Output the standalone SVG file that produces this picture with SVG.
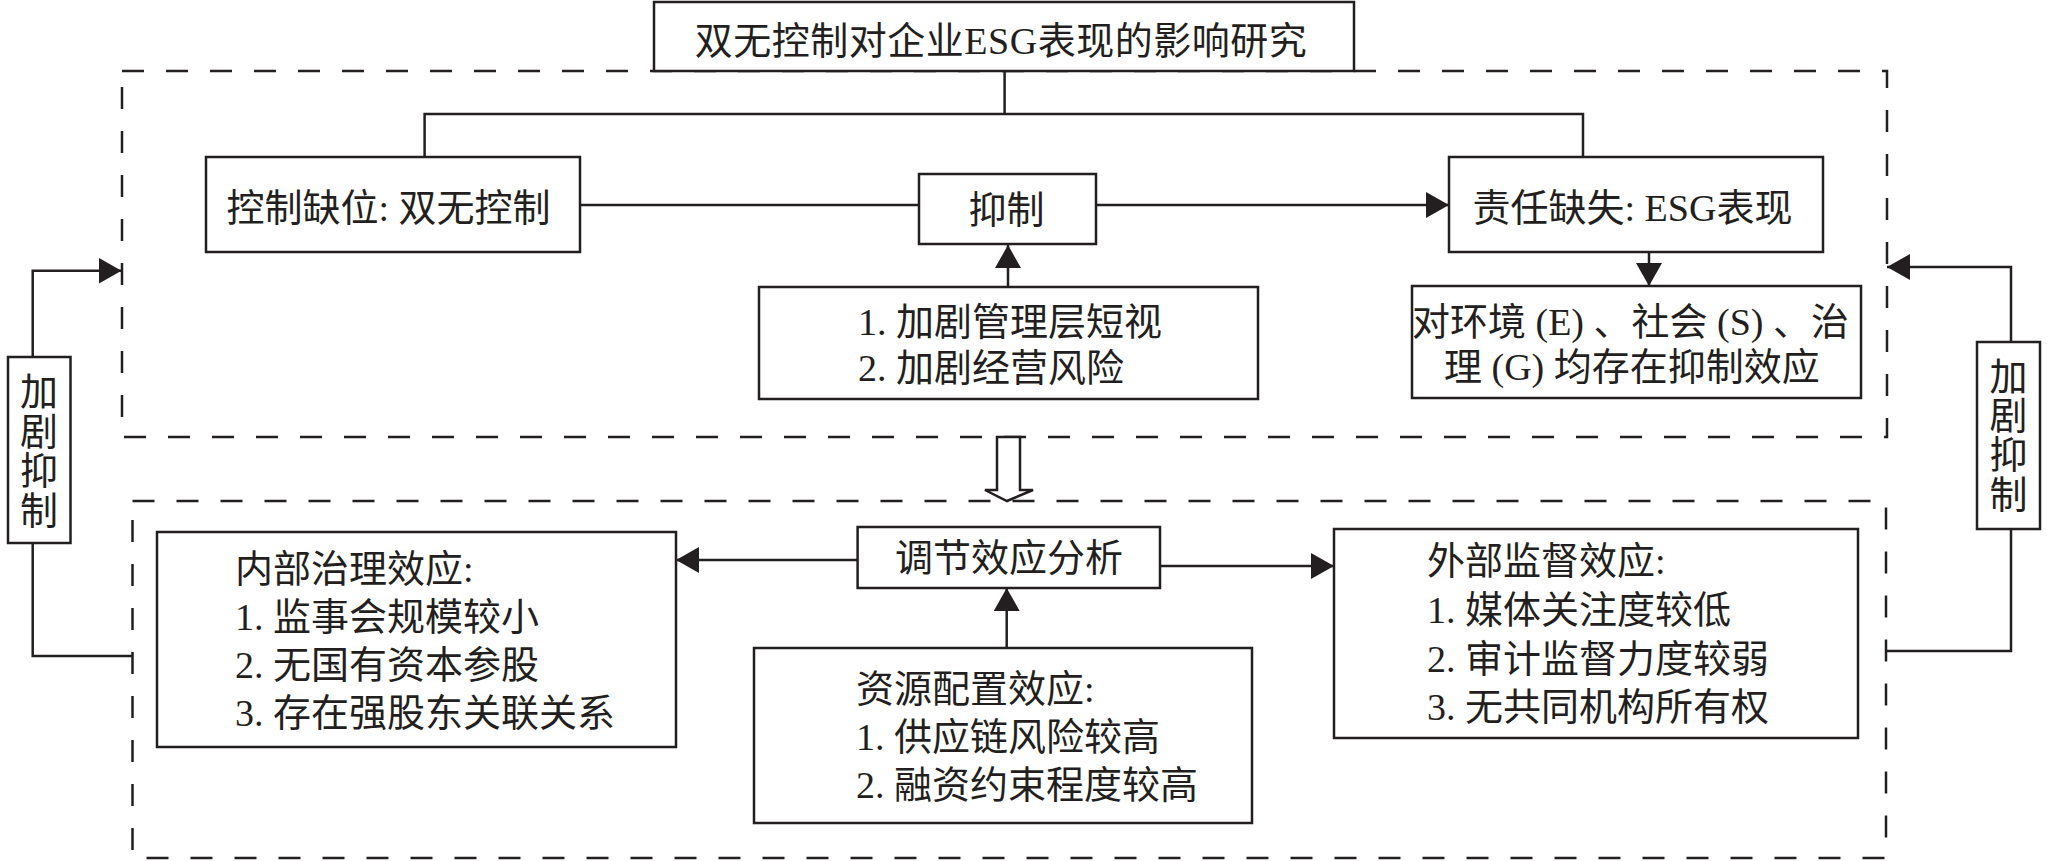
<svg xmlns="http://www.w3.org/2000/svg" width="2047" height="861" viewBox="0 0 2047 861">
  <style>
    .box { fill: #ffffff; stroke: #231f20; stroke-width: 2.5; }
    .dash { fill: none; stroke: #231f20; stroke-width: 2.5; stroke-dasharray: 22 22; }
    .ln { fill: none; stroke: #231f20; stroke-width: 2.5; }
    .arr { fill: none; stroke: #231f20; stroke-width: 2.5; marker-end: url(#ah); }
    text { font-family: 'Liberation Serif', 'Noto Sans CJK SC', serif; font-size: 38px; fill: #231f20; }
    .c { text-anchor: middle; }
  </style>
  <defs>
    <marker id="ah" markerUnits="userSpaceOnUse" markerWidth="26" markerHeight="28" refX="23" refY="13" orient="auto">
      <path d="M0,0 L23,13 L0,26 Z" fill="#231f20"/>
    </marker>
  </defs>
  <rect width="2047" height="861" fill="#ffffff"/>

  <!-- dashed frames -->
  <g id="frames">
    <rect class="dash" x="122" y="71" width="1765" height="366"/>
    <rect class="dash" x="132.5" y="501" width="1753.5" height="357"/>
  </g>

  <!-- connectors -->
  <g id="connectors">
    <path class="ln" d="M1004.6,71 V114 M424.6,157 V114 H1583 V157"/>
    <path class="ln" d="M580,205 H919"/>
    <path class="arr" d="M1096,205 H1449"/>
    <path class="arr" d="M1008,287 V245"/>
    <path class="arr" d="M1649,252 V286"/>
    <path class="arr" d="M32.7,357 V270.7 H121.5"/>
    <path class="ln" d="M32.7,543 V656 H132.5"/>
    <path class="arr" d="M2011,342 V267 H1887"/>
    <path class="ln" d="M2011,529 V651 H1886"/>
    <polygon class="box" points="997,437 1020,437 1020,490 1033,490 1007,501 985,490 997,490"/>
    <path class="arr" d="M857.6,560 H676"/>
    <path class="arr" d="M1160,566 H1334"/>
    <path class="arr" d="M1006.7,648 V588"/>
  </g>

  <g id="title">
    <rect class="box" x="654" y="2" width="700" height="69"/>
    <text class="c" x="1001" y="54" letter-spacing="0.5">双无控制对企业ESG表现的影响研究</text>
  </g>

  <g id="control">
    <rect class="box" x="206" y="157" width="374" height="95"/>
    <text class="c" x="388.5" y="221">控制缺位: 双无控制</text>
  </g>

  <g id="suppress">
    <rect class="box" x="919" y="174" width="177" height="70"/>
    <text class="c" x="1006.5" y="223">抑制</text>
  </g>

  <g id="mechanism">
    <rect class="box" x="759" y="287" width="499" height="112"/>
    <text x="858" y="335">1. 加剧管理层短视</text>
    <text x="858" y="381">2. 加剧经营风险</text>
  </g>

  <g id="responsibility">
    <rect class="box" x="1449" y="157" width="374" height="95"/>
    <text class="c" x="1632.5" y="221">责任缺失: ESG表现</text>
  </g>

  <g id="esg-effect">
    <rect class="box" x="1412" y="286" width="449" height="112"/>
    <text x="1412" y="335">对环境 (E) 、社会 (S) 、治</text>
    <text x="1444" y="380">理 (G) 均存在抑制效应</text>
  </g>

  <g id="left-aggravate">
    <rect class="box" x="8" y="357" width="62.5" height="186"/>
    <text class="c"><tspan x="39" y="405">加</tspan><tspan x="39" y="444.5">剧</tspan><tspan x="39" y="484">抑</tspan><tspan x="39" y="523.5">制</tspan></text>
  </g>

  <g id="right-aggravate">
    <rect class="box" x="1977" y="342" width="63" height="187"/>
    <text class="c"><tspan x="2008.5" y="390">加</tspan><tspan x="2008.5" y="429">剧</tspan><tspan x="2008.5" y="468">抑</tspan><tspan x="2008.5" y="507.5">制</tspan></text>
  </g>

  <g id="moderation">
    <rect class="box" x="857.6" y="527" width="302.4" height="61"/>
    <text class="c" x="1009" y="571">调节效应分析</text>
  </g>

  <g id="internal">
    <rect class="box" x="157" y="532" width="519" height="215"/>
    <text x="235" y="582">内部治理效应:</text>
    <text x="235" y="630">1. 监事会规模较小</text>
    <text x="235" y="678">2. 无国有资本参股</text>
    <text x="235" y="726">3. 存在强股东关联关系</text>
  </g>

  <g id="external">
    <rect class="box" x="1334" y="529" width="524" height="209"/>
    <text x="1427" y="574">外部监督效应:</text>
    <text x="1427" y="623">1. 媒体关注度较低</text>
    <text x="1427" y="672">2. 审计监督力度较弱</text>
    <text x="1427" y="720">3. 无共同机构所有权</text>
  </g>

  <g id="resource">
    <rect class="box" x="754" y="648" width="498" height="175"/>
    <text x="856" y="702">资源配置效应:</text>
    <text x="856" y="750">1. 供应链风险较高</text>
    <text x="856" y="798">2. 融资约束程度较高</text>
  </g>
</svg>
